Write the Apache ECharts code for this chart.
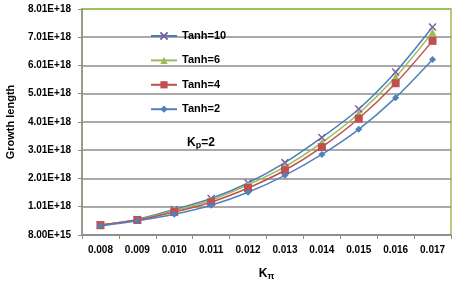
<!DOCTYPE html>
<html>
<head>
<meta charset="utf-8">
<script src="https://cdn.jsdelivr.net/npm/echarts@6/dist/echarts.min.js"></script>
<style>html,body{margin:0;padding:0;background:#fff}#c{width:457px;height:281px}</style>
</head>
<body>
<div id="c"></div>
<script>
// Values in units of 1E+18
var categories = ['0.008','0.009','0.010','0.011','0.012','0.013','0.014','0.015','0.016','0.017'];
var tanh10 = [0.36, 0.56, 0.91, 1.30, 1.85, 2.57, 3.46, 4.47, 5.78, 7.37];
var tanh6  = [0.35, 0.55, 0.87, 1.24, 1.78, 2.43, 3.28, 4.31, 5.60, 7.18];
var tanh4  = [0.36, 0.54, 0.82, 1.17, 1.67, 2.30, 3.12, 4.13, 5.38, 6.88];
var tanh2  = [0.33, 0.51, 0.74, 1.06, 1.52, 2.12, 2.86, 3.75, 4.87, 6.22];
var yTickLabels = ['8.00E+15','1.01E+18','2.01E+18','3.01E+18','4.01E+18','5.01E+18','6.01E+18','7.01E+18','8.01E+18'];
var yMin = 0.008, yMax = 8.008, yStep = 1;

var chart = echarts.init(document.getElementById('c'));
var font = 'Liberation Sans';
var gridColors = ['#8c8c8c','#8c8c8c','#8c8c8c','#8c8c8c','#8c8c8c','#8c8c8c','#8c8c8c','#8c8c8c','#9bbb59'];
function mk(name, data, lineColor, markColor, symbol, size) {
  return {
    name: name, type: 'line', data: data, smooth: 0.3,
    symbol: symbol, symbolSize: size,
    lineStyle: {color: lineColor, width: 1.5},
    itemStyle: {color: markColor, borderColor: markColor, borderWidth: symbol.indexOf('path') === 0 ? 1.5 : 0},
    emphasis: {disabled: true}
  };
}
var crossPath = 'path://M0,0L10,10M10,0L0,10';
chart.setOption({
  animation: false,
  grid: {left: 82, right: 6, top: 9, bottom: 46, outerBoundsMode: 'none', containLabel: false,
    show: true, borderColor: '#9bbb59', borderWidth: 1.5, backgroundColor: 'transparent'},
  legend: {
    orient: 'vertical', left: 145, top: 25.5, itemGap: 13.4, itemWidth: 26, itemHeight: 9,
    textStyle: {fontFamily: font, fontWeight: 'bold', fontSize: 11, color: '#000'},
    data: ['Tanh=10','Tanh=6','Tanh=4','Tanh=2']
  },
  xAxis: {
    type: 'category', data: categories, boundaryGap: true,
    axisLine: {lineStyle: {color: '#8c8c8c', width: 1.5}},
    axisTick: {show: true, length: 4, lineStyle: {color: '#8c8c8c'}},
    axisLabel: {fontFamily: font, fontWeight: 'bold', fontSize: 10, color: '#000', margin: 10},
    name: '{k|K}{s|π}', nameLocation: 'middle', nameGap: 31,
    nameTextStyle: {rich: {
      k: {fontFamily: font, fontSize: 12, fontWeight: 'bold', color: '#000'},
      s: {fontFamily: font, fontSize: 9, fontWeight: 'bold', color: '#000', padding: [6,0,0,0]}
    }}
  },
  yAxis: {
    type: 'value', min: yMin, max: yMax, interval: yStep,
    axisLine: {show: true, lineStyle: {color: '#8c8c8c', width: 1.5}},
    axisTick: {show: true, length: 4, lineStyle: {color: '#8c8c8c'}},
    splitLine: {lineStyle: {color: gridColors, width: 1.5}},
    axisLabel: {fontFamily: font, fontWeight: 'bold', fontSize: 10, color: '#000', margin: 11,
      formatter: function (v, i) { return yTickLabels[i]; }},
    name: 'Growth length', nameLocation: 'middle', nameGap: 66, nameRotate: 90,
    nameTextStyle: {fontFamily: font, fontWeight: 'bold', fontSize: 11, color: '#000'}
  },
  graphic: [{
    type: 'text', left: 187, top: 137,
    style: {
      text: '{k|K}{s|p}{k|=2}',
      rich: {
        k: {fontFamily: font, fontSize: 12, fontWeight: 'bold', fill: '#000'},
        s: {fontFamily: font, fontSize: 9, fontWeight: 'bold', fill: '#000', padding: [5,0,0,0]}
      }
    }
  }],
  series: [
    mk('Tanh=10', tanh10, '#4a7ebb', '#7f5fa0', crossPath, 7),
    mk('Tanh=6', tanh6, '#9bbb59', '#9bbb59', 'triangle', 8),
    mk('Tanh=4', tanh4, '#c0504d', '#c0504d', 'rect', 8),
    mk('Tanh=2', tanh2, '#4f81bd', '#4f81bd', 'diamond', 7)
  ]
});
</script>
</body>
</html>
